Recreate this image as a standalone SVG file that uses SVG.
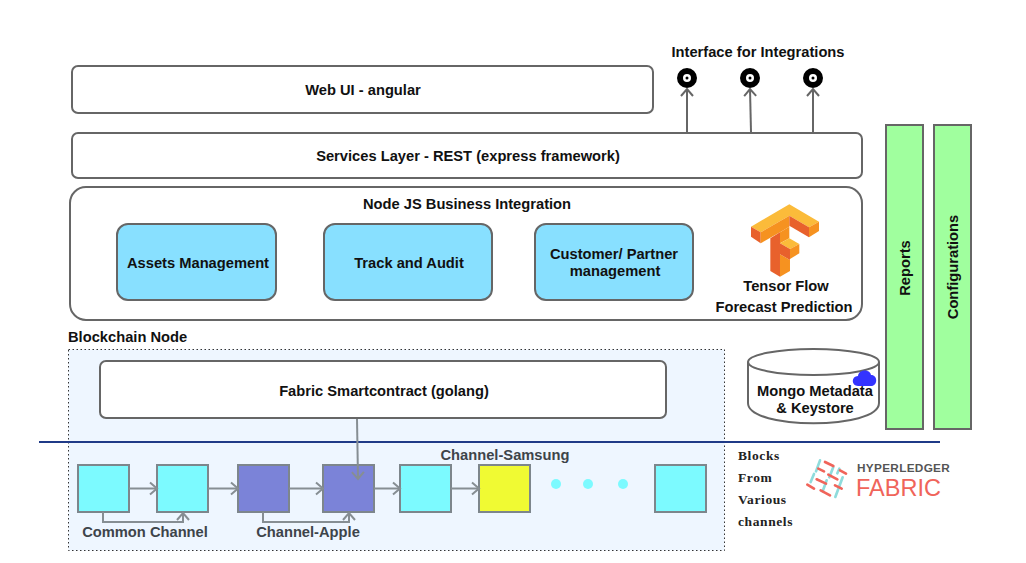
<svg xmlns="http://www.w3.org/2000/svg" width="1026" height="563" viewBox="0 0 1026 563">
<defs>
<marker id="open" markerUnits="userSpaceOnUse" markerWidth="16" markerHeight="16" refX="11" refY="8" orient="auto"><path d="M4 2 L11 8 L4 14" fill="none" stroke="context-stroke" stroke-width="2"/></marker>
</defs>
<style>
text{font-family:"Liberation Sans",Arial,sans-serif;font-weight:700;font-size:14.700px;fill:#111;text-anchor:middle}
.box{fill:#fff;stroke:#666;stroke-width:2}
.mod{fill:#88e0ff;stroke:#666;stroke-width:2}
.side{fill:#a0ff9e;stroke:#666;stroke-width:2}
.cy{fill:#7cfaff;stroke:#7d868c;stroke-width:2}
.pu{fill:#7b83d8;stroke:#7d868c;stroke-width:2}
.ye{fill:#f0fa33;stroke:#7d868c;stroke-width:2}
.ln{fill:none;stroke:#868e93;stroke-width:2;marker-end:url(#open)}
.up{fill:none;stroke:#666;stroke-width:2;marker-end:url(#open)}
.lb{fill:#3d444a}
.bk{font-family:"Liberation Serif",serif;font-size:13.500px;text-anchor:start;letter-spacing:.6px;fill:#222}
.r{stroke:#f0645a}.t{stroke:#8fdcdc}
</style>
<g id="blockchain-node">
<rect x="68.500" y="349.500" width="656" height="201" fill="#eef6ff" stroke="#333" stroke-width="1" stroke-dasharray="1.500 2.500"/>
<text x="68" y="342" style="text-anchor:start">Blockchain Node</text>
</g>
<g id="web-ui"><rect class="box" x="72" y="66" width="581" height="47" rx="6"/><text x="363" y="95">Web UI - angular</text></g>
<g id="services"><rect class="box" x="72" y="133" width="790" height="45" rx="6"/><text x="468" y="161">Services Layer - REST (express framework)</text></g>
<g id="business">
<rect class="box" x="70" y="187" width="792" height="133" rx="16"/><text x="467" y="209">Node JS Business Integration</text>
</g>
<g id="assets"><rect class="mod" x="117" y="224" width="159" height="76" rx="11"/><text x="198" y="268">Assets Management</text></g>
<g id="track"><rect class="mod" x="324" y="224" width="168" height="76" rx="11"/><text x="409" y="268">Track and Audit</text></g>
<g id="customer"><rect class="mod" x="535" y="224" width="158" height="76" rx="11"/><text x="614" y="259">Customer/ Partner</text><text x="615" y="276">management</text></g>
<g id="tensorflow">
<g transform="translate(700 195) scale(.3333)">
<polygon fill="#fbbb3a" points="153,95 268,28 357,80 327,97 268,62 182,112"/>
<polygon fill="#e8612c" points="153,95 182,112 182,145 153,125"/>
<polygon fill="#f69220" points="182,112 268,62 268,95 240,112 182,145"/>
<polygon fill="#e8612c" points="268,62 327,97 327,127 268,92"/>
<polygon fill="#f69220" points="327,97 357,80 357,108 327,127"/>
<polygon fill="#e8612c" points="211,130 240,112 240,245 211,228"/>
<polygon fill="#f69220" points="240,112 268,95 268,130 240,145"/>
<polygon fill="#f69220" points="240,178 270,195 270,228 240,245"/>
<polygon fill="#fbbb3a" points="240,145 268,130 298,147 270,162"/>
<polygon fill="#e8612c" points="240,145 270,162 270,195 240,178"/>
<polygon fill="#f69220" points="270,162 298,147 298,175 270,192"/>
</g>
<text x="786" y="291">Tensor Flow</text><text x="784" y="312">Forecast Prediction</text>
</g>
<g id="reports"><rect class="side" x="886" y="125" width="37" height="304"/><text transform="translate(910 268) rotate(-90)">Reports</text></g>
<g id="configurations"><rect class="side" x="934" y="125" width="37" height="304"/><text transform="translate(958 267) rotate(-90)">Configurations</text></g>
<g id="interface">
<text x="758" y="57">Interface for Integrations</text>
<circle cx="687" cy="78" r="7" fill="#fff" stroke="#000" stroke-width="6"/>
<circle cx="750" cy="78" r="7" fill="#fff" stroke="#000" stroke-width="6"/>
<circle cx="813" cy="78" r="7" fill="#fff" stroke="#000" stroke-width="6"/>
<circle cx="687" cy="78" r="1.500" fill="#000"/><circle cx="750" cy="78" r="1.500" fill="#000"/><circle cx="813" cy="78" r="1.500" fill="#000"/>
</g>
<g id="mongo">
<path d="M748 362 V403 C748 430 879 430 879 403 V362" fill="#fff" stroke="#666" stroke-width="2"/>
<ellipse cx="813.500" cy="362" rx="65.500" ry="13" fill="#fff" stroke="#666" stroke-width="2"/>
<path d="M858 386 C851 386 851 376 858 376 C859 369 870 369 871 375 C878 375 878 386 871 386 Z" fill="#3333ff"/>
<text x="815" y="396">Mongo Metadata</text><text x="815" y="413">&amp; Keystore</text>
</g>
<g id="smartcontract"><rect class="box" x="100" y="361" width="566" height="57" rx="6"/><text x="384" y="396">Fabric Smartcontract (golang)</text></g>
<line id="divider" x1="39" y1="442" x2="940" y2="442" stroke="#1f3a87" stroke-width="2"/>
<g id="block-1"><rect class="cy" x="78" y="465" width="51" height="47"/></g>
<g id="block-2"><rect class="cy" x="157" y="465" width="51" height="47"/></g>
<g id="block-3"><rect class="pu" x="238" y="465" width="51" height="47"/></g>
<g id="block-4"><rect class="pu" x="323" y="465" width="51" height="47"/></g>
<g id="block-5"><rect class="cy" x="400" y="465" width="51" height="47"/></g>
<g id="block-6"><rect class="ye" x="479" y="465" width="51" height="47"/></g>
<g id="block-7"><rect class="cy" x="655" y="465" width="51" height="47"/></g>
<g id="connectors">
<path class="up" d="M687 132 V89"/>
<path class="up" d="M751 132 L750 89"/>
<path class="up" d="M813 132 V89"/>
<path class="ln" d="M129 488.500 H157"/>
<path class="ln" d="M208 488.500 H238"/>
<path class="ln" d="M289 488.500 H323"/>
<path class="ln" d="M374 488.500 H400"/>
<path class="ln" d="M451 488.500 H479"/>
<path class="ln" d="M103 512 V522 H183 V513"/>
<path class="ln" d="M263 512 V522 H349 V513"/>
<path class="ln" d="M357 419 L358 479"/>
</g>
<g id="dots" fill="#7cfaff"><circle cx="556" cy="484" r="5"/><circle cx="588" cy="484" r="5"/><circle cx="623" cy="484" r="5"/></g>
<text class="lb" x="145" y="537">Common Channel</text>
<text class="lb" x="308" y="537">Channel-Apple</text>
<text class="lb" x="505" y="460">Channel-Samsung</text>
<g id="blocks-label">
<text class="bk" x="738" y="460">Blocks</text><text class="bk" x="738" y="482">From</text><text class="bk" x="738" y="504">Various</text><text class="bk" x="738" y="526">channels</text>
</g>
<g id="fabric-logo">
<g transform="translate(800 452) scale(.3333)" fill="none" stroke-width="8" stroke-linecap="round">
<path class="t" d="M60 25 L48 58 M100 45 L88 76 M42 66 L32 90 M80 85 L68 118 M128 76 L106 135 M118 50 L112 64"/>
<path class="r" d="M75 30 L100 42 M120 55 L138 65 M55 50 L72 58 M85 68 L112 82 M50 82 L78 95 M22 98 L42 110 M62 115 L90 130 M105 100 L125 110"/>
</g>
<text x="857" y="472" style="text-anchor:start;font-size:11.800px;fill:#555;letter-spacing:.3px">HYPERLEDGER</text>
<text x="856" y="496" style="text-anchor:start;font-size:23.500px;font-weight:400;fill:#f0645a">FABRIC</text>
</g>
</svg>
